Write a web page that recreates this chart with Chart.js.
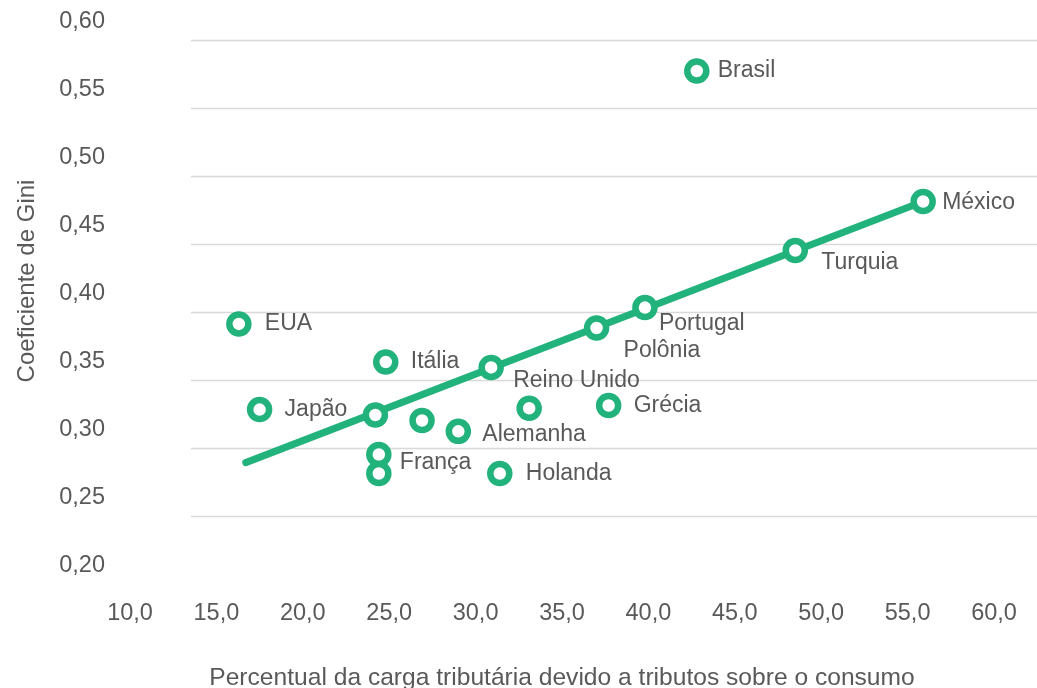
<!DOCTYPE html>
<html>
<head>
<meta charset="utf-8">
<script src="https://cdn.jsdelivr.net/npm/chart.js@4/dist/chart.umd.min.js"></script>
<style>
  body { margin: 0; background: #fff; }
  #wrap { width: 1037px; height: 688px; }
</style>
</head>
<body>
<div id="wrap"><canvas id="giniChart"></canvas></div>
<script>
// data
const countries = ['Brasil', 'México', 'Turquia', 'Portugal', 'Polônia', 'Reino Unido', 'EUA', 'Itália', 'Japão', '', '', 'Alemanha', '', 'Grécia', 'França', '', 'Holanda'];
const consumoShare = [42.8, 55.9, 48.5, 39.8, 37.0, 30.9, 16.3, 24.8, 17.5, 24.2, 26.9, 29.0, 33.1, 37.7, 24.4, 24.4, 31.4];
const gini = [0.564, 0.468, 0.432, 0.390, 0.375, 0.346, 0.378, 0.350, 0.315, 0.311, 0.307, 0.299, 0.316, 0.318, 0.282, 0.268, 0.268];
const trendX = [16.7, 55.9];
const trendY = [0.276, 0.468];

const green = '#22b27b';
const textGrey = '#595959';
const fontFamily = "'Liberation Sans', Arial, sans-serif";
const yTitle = 'Coeficiente de Gini';

// where each name sits next to its point (px)
const labelOffsets = {
    'Brasil': [21, 0], 'México': [19, 1], 'Turquia': [26, 12], 'Portugal': [14, 16],
    'Polônia': [27, 23], 'Reino Unido': [22, 13], 'EUA': [26, 0], 'Itália': [25, 0],
    'Japão': [25, 0], 'Alemanha': [24, 3], 'Grécia': [25, 0], 'França': [21, 8],
    'Holanda': [26, 0]
};

// horizontal gridlines, drawn a bit below the tick labels as in the original
const gridPlugin = {
    id: 'gridPlugin',
    beforeDatasetsDraw(chart) {
        const y = chart.scales.y;
        const ctx = chart.ctx;
        ctx.save();
        ctx.strokeStyle = '#d9d9d9';
        ctx.lineWidth = 1.5;
        y.ticks.forEach(t => {
            if (t.value < 0.24) return;
            const py = Math.round(y.getPixelForValue(t.value) + 18) + 0.5;
            ctx.beginPath();
            ctx.moveTo(191, py);
            ctx.lineTo(chart.width, py);
            ctx.stroke();
        });
        ctx.restore();
    }
};

// country names and the vertical axis title
const textPlugin = {
    id: 'textPlugin',
    afterDatasetsDraw(chart) {
        const ctx = chart.ctx;
        const meta = chart.getDatasetMeta(0);
        ctx.save();
        ctx.font = '23px ' + fontFamily;
        ctx.fillStyle = textGrey;
        ctx.textAlign = 'left';
        ctx.textBaseline = 'middle';
        meta.data.forEach((pt, i) => {
            const name = countries[i];
            if (!name) return;
            const off = labelOffsets[name] || [25, 0];
            ctx.fillText(name, pt.x + off[0], pt.y + off[1]);
        });

        ctx.font = '24px ' + fontFamily;
        ctx.textAlign = 'center';
        ctx.translate(27, 281);
        ctx.rotate(-Math.PI / 2);
        ctx.fillText(yTitle, 0, 0);
        ctx.restore();
    }
};

new Chart(document.getElementById('giniChart').getContext('2d'), {
    type: 'scatter',
    data: {
        datasets: [{
            label: 'Países',
            data: consumoShare.map((x, i) => ({ x: x, y: gini[i] })),
            pointRadius: 9.5,
            pointBorderWidth: 6.5,
            pointBorderColor: green,
            pointBackgroundColor: '#ffffff',
            order: 0
        }, {
            type: 'line',
            label: 'Tendência',
            data: trendX.map((x, i) => ({ x: x, y: trendY[i] })),
            borderColor: green,
            borderWidth: 7,
            borderCapStyle: 'round',
            pointRadius: 0,
            fill: false,
            order: 1
        }]
    },
    options: {
        responsive: true,
        maintainAspectRatio: false,
        animation: false,
        layout: { padding: { top: 22, right: 43, bottom: 0, left: 0 } },
        plugins: {
            legend: { display: false },
            tooltip: { enabled: false }
        },
        scales: {
            x: {
                type: 'linear',
                min: 10,
                max: 60,
                grid: { display: false },
                border: { display: false },
                ticks: {
                    stepSize: 5,
                    padding: 25,
                    color: textGrey,
                    font: { family: fontFamily, size: 23.5 },
                    callback: v => v.toFixed(1).replace('.', ',')
                },
                title: {
                    display: true,
                    text: 'Percentual da carga tributária devido a tributos sobre o consumo',
                    color: textGrey,
                    font: { family: fontFamily, size: 24.6 },
                    padding: { top: 0, bottom: -5 }
                },
                afterFit(scale) {
                    scale.height = 122;
                    scale.paddingLeft = 0;
                    scale.paddingRight = 0;
                }
            },
            y: {
                min: 0.2,
                max: 0.6,
                grid: { display: false },
                border: { display: false },
                ticks: {
                    stepSize: 0.05,
                    padding: 17,
                    color: textGrey,
                    font: { family: fontFamily, size: 23.5 },
                    callback: v => v.toFixed(2).replace('.', ',')
                },
                afterFit(scale) {
                    scale.width = 130;
                    scale.paddingTop = 0;
                    scale.paddingBottom = 0;
                }
            }
        }
    },
    plugins: [gridPlugin, textPlugin]
});
</script>
</body>
</html>
